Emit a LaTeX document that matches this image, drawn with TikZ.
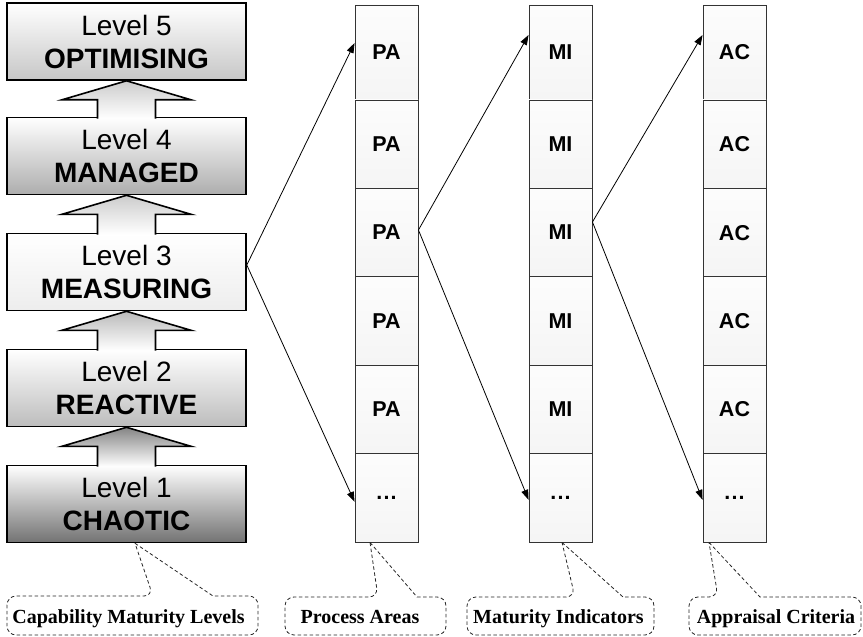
\documentclass[tikz,border=0pt]{standalone}
\usepackage{fontspec}
\setmainfont{Liberation Sans}
\newfontfamily\notefont{Liberation Serif}
\usetikzlibrary{arrows.meta,calc}

% hollow block arrow from the top of one level box to the bottom of the next
\newcommand\stepup[3]{%
  \path[levelarrow, top color=#3, bottom color=white]
    ($(#1.north)+(-29,2)$) -- ($(#2.south)+(-29,19)$) -- ($(#2.south)+(-64.5,19)$)
    -- (#2.south) -- ($(#2.south)+(64.5,19)$) -- ($(#2.south)+(29,19)$)
    -- ($(#1.north)+(29,2)$);}

\begin{document}
\begin{tikzpicture}[x=1bp,y=-1bp,
  levelbox/.style={draw=black, line width=1.6bp, minimum width=239bp, minimum height=77bp,
    inner sep=0pt, align=center, top color=white,
    font=\fontsize{28bp}{33bp}\selectfont},
  levelarrow/.style={draw=black, line width=1.6bp, line join=miter},
  cell/.style={draw=black!80, line width=0.9bp, minimum width=63bp, inner sep=0pt,
    top color=black!1, bottom color=black!4,
    font=\fontsize{21.5bp}{24bp}\selectfont\bfseries},
  link/.style={line width=0.8bp, -{Triangle[length=10bp,width=7bp]}},
  callout/.style={draw=black!85, line width=0.8bp, dash pattern=on 3.5bp off 2.5bp},
  note/.style={font=\notefont\bfseries\fontsize{20bp}{24bp}\selectfont, inner sep=0pt, anchor=base}
]
\useasboundingbox (0,0) rectangle (863,637);

% maturity levels
\node[levelbox, bottom color=black!22] (L5) at (126.5,41.5) {Level 5\\\textbf{OPTIMISING}};
\node[levelbox, bottom color=black!32] (L4) at (126.5,156)  {Level 4\\\textbf{MANAGED}};
\node[levelbox, bottom color=black!7]  (L3) at (126.5,272)  {Level 3\\\textbf{MEASURING}};
\node[levelbox, bottom color=black!26] (L2) at (126.5,388)  {Level 2\\\textbf{REACTIVE}};
\node[levelbox, bottom color=black!55] (L1) at (126.5,504)  {Level 1\\\textbf{CHAOTIC}};

\stepup{L4}{L5}{black!20}
\stepup{L3}{L4}{black!20}
\stepup{L2}{L3}{black!27}
\stepup{L1}{L2}{black!48}

% columns of process areas, maturity indicators and appraisal criteria
\foreach \col/\x in {PA/386.5, MI/560.5, AC/734.5} {
  \node[cell, minimum height=95bp] (\col1) at (\x,52.5) {\col};
  \foreach \i/\y in {2/144.2, 3/232.6, 4/321, 5/409.4}
    \node[cell, minimum height=88.4bp] (\col\i) at (\x,\y) {\col};
  \node[cell, minimum height=88.4bp] (\col6) at (\x,497.8) {.\kern1.2bp.\kern1.2bp.};
}

% fan-out links
\draw[link] ([yshift=7bp]L3.east) -- ([yshift=9.5bp]PA1.west);
\draw[link] ([yshift=7bp]L3.east) -- ([yshift=-4bp]PA6.west);
\draw[link] ([yshift=2.6bp]PA3.east) -- ([yshift=17.5bp]MI1.west);
\draw[link] ([yshift=2.6bp]PA3.east) -- ([yshift=-2bp]MI6.west);
\draw[link] ([yshift=10.6bp]MI3.east) -- ([yshift=17.5bp]AC1.west);
\draw[link] ([yshift=10.6bp]MI3.east) -- ([yshift=-2bp]AC6.west);

% captions in dashed callouts
\node[note] (cml) at (128.5,623) {Capability Maturity Levels};
\draw[callout] ([xshift=8.5bp]L1.south) -- (213,596) [rounded corners=9bp] -- (258,596)
  -- (258,635) -- (7,635) -- (7,596) -- (153,596) [sharp corners] -- ([xshift=8.5bp]L1.south);

\node[note] (pan) at (360,623) {Process Areas};
\draw[callout] ([xshift=-16.5bp]PA6.south) -- (417,597) [rounded corners=9bp] -- (446,597)
  -- (446,635) -- (285,635) -- (285,597) -- (378,597) [sharp corners] -- ([xshift=-16.5bp]PA6.south);

\node[note] (min) at (558.5,623) {Maturity Indicators};
\draw[callout] ([xshift=1.5bp]MI6.south) -- (623,597) [rounded corners=9bp] -- (654,597)
  -- (654,635) -- (467,635) -- (467,597) -- (575,597) [sharp corners] -- ([xshift=1.5bp]MI6.south);

\node[note] (acn) at (776,623) {Appraisal Criteria};
\draw[callout] ([xshift=-25.5bp]AC6.south) -- (760,597) [rounded corners=9bp] -- (861,597)
  -- (861,635) -- (689,635) -- (689,597) -- (718,597) [sharp corners] -- ([xshift=-25.5bp]AC6.south);
\end{tikzpicture}
\end{document}
